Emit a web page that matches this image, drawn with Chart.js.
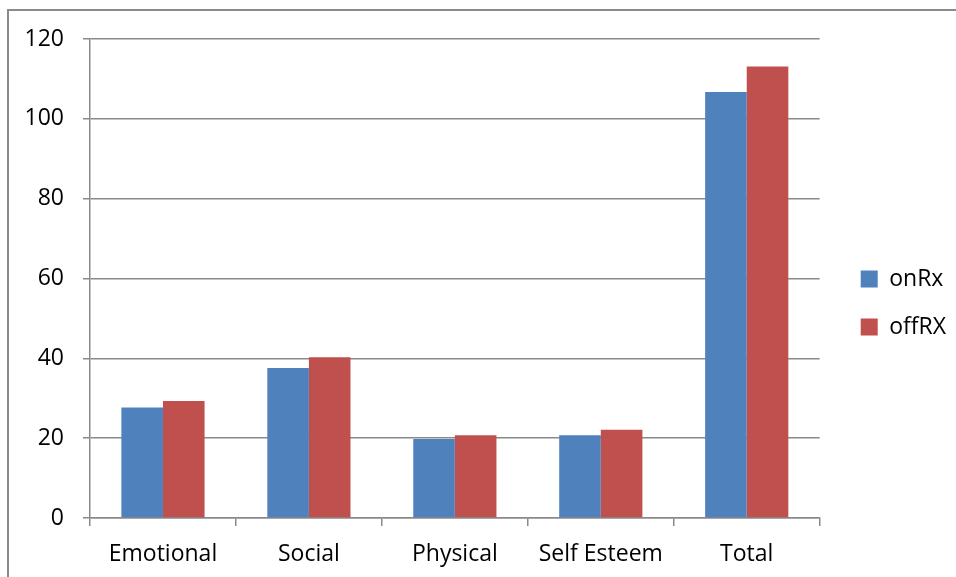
<!DOCTYPE html>
<html>
<head>
<meta charset="utf-8">
<script src="https://cdn.jsdelivr.net/npm/chart.js@4.4.1/dist/chart.umd.min.js"></script>
<style>
  html, body { margin: 0; padding: 0; background: #fff; overflow: hidden; }
  #frame {
    position: absolute; left: 7px; top: 9px;
    border-left: 2px solid #8a8a8a; border-top: 2px solid #8a8a8a;
    width: 1000px; height: 600px;
  }
  #wrap { position: absolute; left: 0; top: 0; width: 1000px; height: 566px; }
</style>
</head>
<body>
<div id="frame"><div id="wrap"><canvas id="chart"></canvas></div></div>
<script>
// Categories and the two series
const categories = ["Emotional", "Social", "Physical", "Self Esteem", "Total"];
const onRx = [27.7, 37.6, 19.8, 20.7, 106.7];
const offRX = [29.3, 40.3, 20.7, 22.1, 113.1];
const yTicks = [0, 20, 40, 60, 80, 100, 120];

const gridColor = "#8a8a8a";
const font = { family: "'Open Sans', sans-serif", size: 23 };

Chart.defaults.font = font;
Chart.defaults.color = "#000";

const ctx = document.getElementById("chart").getContext("2d");
new Chart(ctx, {
  type: "bar",
  data: {
    labels: categories,
    datasets: [
      { label: "onRx", data: onRx, backgroundColor: "#4f81bd" },
      { label: "offRX", data: offRX, backgroundColor: "#c0504d" }
    ]
  },
  options: {
    responsive: true,
    maintainAspectRatio: false,
    animation: false,
    categoryPercentage: 0.57,
    barPercentage: 1,
    // bottom padding lifts the legend's centre a little
    layout: { padding: { top: 28, left: 0, right: 53, bottom: 10 } },
    plugins: {
      tooltip: { enabled: false },
      legend: {
        position: "right",
        align: "center",
        labels: { boxWidth: 17, boxHeight: 17, padding: 25, font: font }
      }
    },
    scales: {
      x: {
        grid: { drawOnChartArea: false, drawTicks: true, tickLength: 8, offset: true, color: gridColor, lineWidth: 1.5 },
        border: { color: gridColor, width: 1.5 },
        ticks: { padding: 15, maxRotation: 0 },
        afterFit: s => { s.height = 49; }
      },
      y: {
        min: 0,
        max: 120,
        afterBuildTicks: s => { s.ticks = yTicks.map(v => ({ value: v })); },
        grid: { color: gridColor, lineWidth: 1.5, tickLength: 7 },
        border: { color: gridColor, width: 1.5 },
        ticks: { padding: 19 },
        // fixed width; the top label may overhang the plot edge
        afterFit: s => { s.width = 81; s.paddingTop = 0; s.paddingBottom = 0; }
      },
      // spacer between plot and legend
      gap: {
        position: "right",
        display: true,
        grid: { display: false },
        border: { display: false },
        ticks: { display: false },
        afterFit: s => { s.width = 16; s.paddingTop = 0; s.paddingBottom = 0; }
      }
    }
  }
});
</script>
</body>
</html>
